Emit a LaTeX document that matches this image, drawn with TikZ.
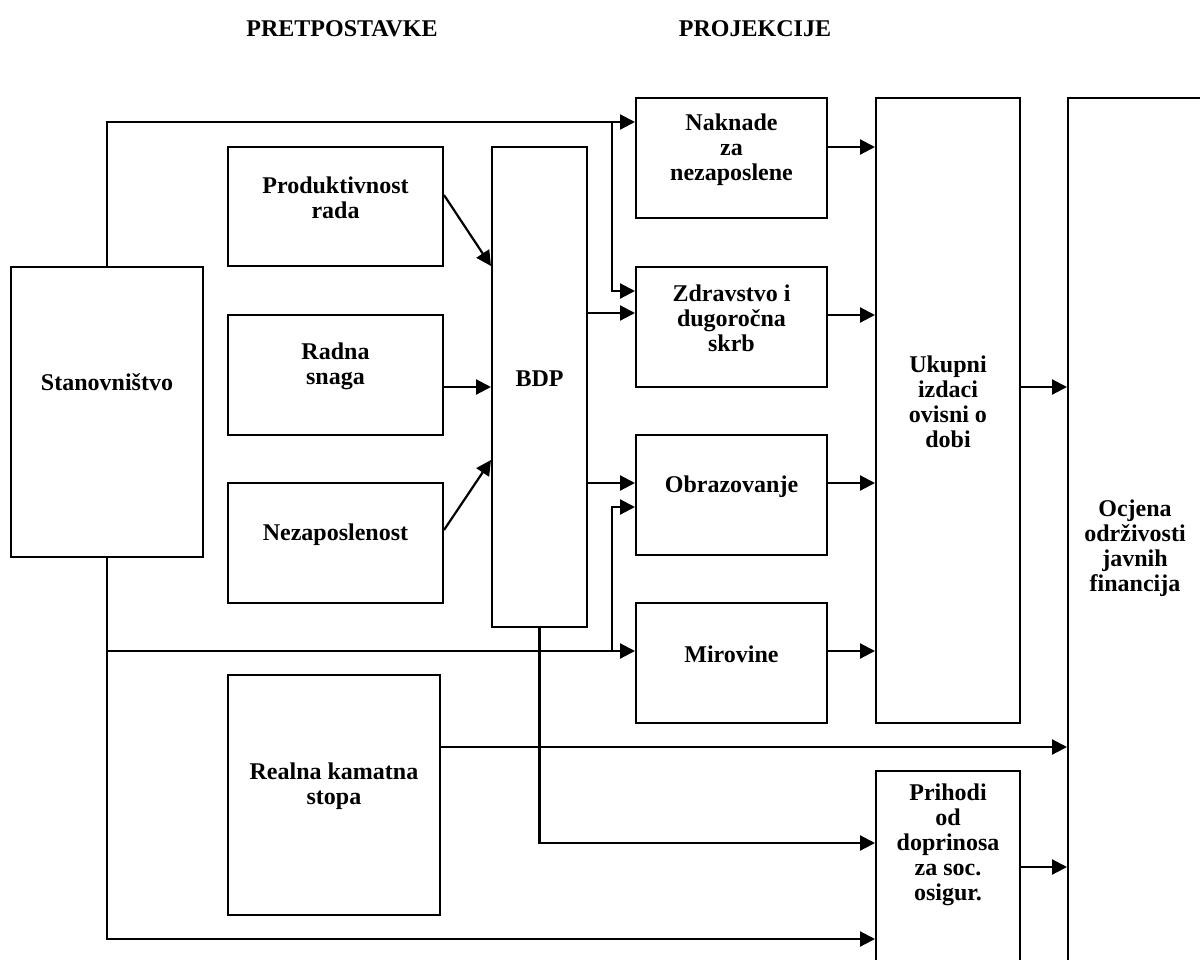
\documentclass[tikz,border=0pt]{standalone}
\usepackage{fontspec}
\setmainfont{Liberation Serif}
\usetikzlibrary{arrows.meta,fit}
\begin{document}
\begin{tikzpicture}[x=0.5pt,y=-0.5pt,
  box/.style={draw,line width=1pt,inner sep=0pt,align=center,font=\bfseries\fontsize{12}{12.5}\selectfont},
  lbl/.style={inner sep=0pt,align=center,font=\bfseries\fontsize{12}{12.5}\selectfont},
  conn/.style={line width=1.1pt,-{Triangle[length=7.5pt,width=7.5pt]}}]
\useasboundingbox (0,0) rectangle (1200,959);
% titles
\node[lbl] (t1) at (342,29) {PRETPOSTAVKE};
\node[lbl] (t2) at (755,29) {PROJEKCIJE};
% left column
\node[box,fit={(11,267)(203,557)}] (stan) {};
\node[lbl] (stanl) at (107,382) {Stanovništvo};
\node[box,fit={(228,147)(443,266)}] (prod) {Produktivnost\\rada};
\node[box,fit={(228,315)(443,435)}] (rad) {Radna\\snaga};
\node[box,fit={(228,483)(443,603)}] (nez) {Nezaposlenost};
\node[box,fit={(228,675)(440,915)}] (real) {Realna kamatna\\stopa};
\node[box,fit={(492,147)(587,627)}] (bdp) {BDP};
% projections
\node[box,fit={(636,98)(827,218)}] (nak) {Naknade\\za\\nezaposlene};
\node[box,fit={(636,267)(827,387)}] (zdr) {Zdravstvo i\\dugoročna\\skrb};
\node[box,fit={(636,435)(827,555)}] (obr) {Obrazovanje};
\node[box,fit={(636,603)(827,723)}] (mir) {Mirovine};
\node[box,fit={(876,98)(1020,723)}] (uk) {Ukupni\\izdaci\\ovisni o\\dobi};
\node[box,fit={(876,771)(1020,975)}] (pri) {};
\node[lbl] (pril) at (948,845) {Prihodi\\od\\doprinosa\\za soc.\\osigur.};
\node[box,fit={(1068,98)(1202,975)}] (ocj) {};
\node[lbl] (ocjl) at (1135,548) {Ocjena\\održivosti\\javnih\\financija};
% junction coordinates
\coordinate (j1) at (612,122);
\coordinate (j2) at (107,651);
\coordinate (j3) at (612,651);
% connectors
\draw[conn] (stan.north) |- (nak.west |- j1);
\draw[conn] (j1) |- (zdr.west |- 0,291);
\draw[conn] (bdp.east |- 0,313) -- (zdr.west |- 0,313);
\draw[conn] (bdp.east |- 0,483) -- (obr.west |- 0,483);
\draw[conn] (stan.south) |- (pri.west |- 0,939);
\draw[conn] (j2) -- (mir.west |- j2);
\draw[conn] (j3) |- (obr.west |- 0,507);
\draw[conn] (bdp.south) |- (pri.west |- 0,843);
\draw[conn] (real.east |- 0,747) -- (ocj.west |- 0,747);
\draw[conn] (pri.east |- 0,867) -- (ocj.west |- 0,867);
\draw[conn] (uk.east |- 0,387) -- (ocj.west |- 0,387);
\draw[conn] (nak.east |- 0,147) -- (uk.west |- 0,147);
\draw[conn] (zdr.east |- 0,315) -- (uk.west |- 0,315);
\draw[conn] (obr.east |- 0,483) -- (uk.west |- 0,483);
\draw[conn] (mir.east |- 0,651) -- (uk.west |- 0,651);
\draw[conn] (prod.east |- 0,195) -- (bdp.west |- 0,266);
\draw[conn] (rad.east |- 0,387) -- (bdp.west |- 0,387);
\draw[conn] (nez.east |- 0,530) -- (bdp.west |- 0,460);
\end{tikzpicture}
\end{document}
